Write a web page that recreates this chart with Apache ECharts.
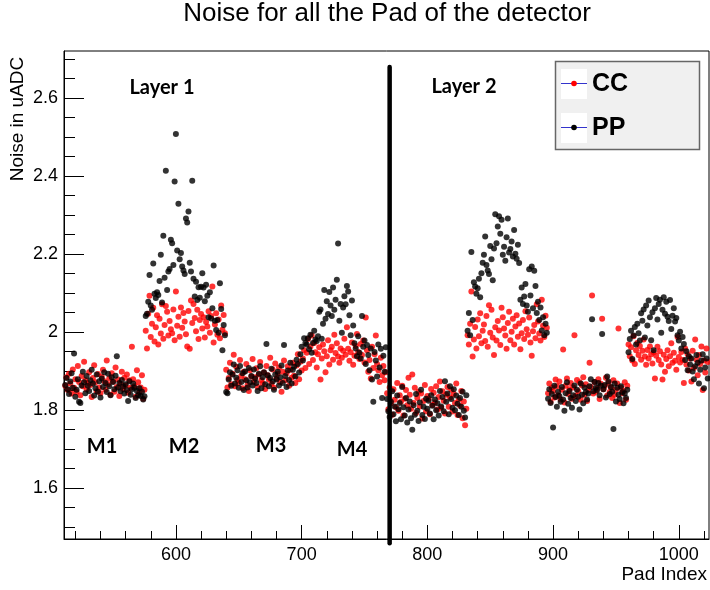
<!DOCTYPE html>
<html>
<head>
<meta charset="utf-8">
<script src="https://cdn.jsdelivr.net/npm/echarts@6/dist/echarts.min.js"></script>
<style>html,body{margin:0;padding:0;background:#fff}#c{width:710px;height:590px}</style>
</head>
<body>
<div id="c"></div>
<script>
// ---- data: noise per pad, one array of 64 pads per module ----
const moduleStarts = [512, 576, 640, 704, 768, 832, 896, 960];

const cc_L1M1 = [1.862,1.884,1.851,1.893,1.868,1.842,1.904,1.857,
1.879,1.846,1.913,1.872,1.838,1.887,1.861,1.924,
1.876,1.853,1.869,1.897,1.864,1.833,1.882,1.915,
1.871,1.848,1.892,1.858,1.843,1.886,1.903,1.874,
1.852,1.927,1.866,1.881,1.839,1.894,1.873,1.847,
1.909,1.859,1.878,1.836,1.867,1.898,1.854,1.883,
1.863,1.891,1.844,1.876,1.857,1.962,1.879,1.861,
1.834,1.902,1.871,1.845,1.858,1.889,1.829,1.852];
const pp_L1M1 = [1.864,1.882,1.853,1.841,1.873,1.894,1.857,1.945,
1.834,1.852,1.879,1.821,1.818,1.863,1.898,1.871,
1.843,1.887,1.862,1.849,1.876,1.903,1.868,1.837,
1.856,1.891,1.847,1.874,1.832,1.881,1.859,1.897,
1.869,1.846,1.893,1.861,1.838,1.884,1.872,1.853,
1.888,1.938,1.857,1.869,1.848,1.877,1.861,1.842,
1.866,1.851,1.823,1.874,1.839,1.853,1.868,1.857,
1.831,1.849,1.838,1.856,1.836,1.847,1.827,1.835];

const cc_L1M2 = [2.003,1.958,2.047,2.093,1.987,2.021,2.062,1.976,
2.012,2.043,1.968,2.034,1.996,2.071,1.983,2.018,
2.067,2.052,1.991,2.028,2.007,1.997,2.058,1.979,
2.104,2.016,2.039,1.988,2.063,2.011,2.049,2.027,
1.994,1.963,2.054,1.957,2.081,2.023,2.072,2.036,
2.002,2.057,1.982,2.031,2.046,2.009,2.038,1.986,
2.026,2.014,2.053,1.998,2.041,2.117,1.973,2.019,
2.048,1.993,2.032,1.984,2.068,2.006,2.044,1.997];
const pp_L1M2 = [2.041,2.047,2.078,2.146,2.068,2.057,2.176,2.098,
2.087,2.102,2.095,2.131,2.198,2.076,2.247,2.139,
2.414,2.108,2.155,2.162,2.237,2.228,2.172,2.386,
2.508,2.209,2.329,2.187,2.203,2.168,2.158,2.149,
2.291,2.281,2.309,2.178,2.155,2.388,2.137,2.091,
2.129,2.082,2.115,2.088,2.116,2.151,2.114,2.079,
2.121,2.093,2.038,2.102,2.035,2.061,2.171,2.029,
2.005,2.031,1.998,2.125,2.059,1.953,2.018,1.992];

const cc_L1M3 = [1.903,1.858,1.882,1.921,1.866,1.893,1.942,1.861,
1.911,1.877,1.869,1.928,1.887,1.856,1.898,1.879,
1.918,1.864,1.849,1.902,1.886,1.931,1.872,1.884,
1.907,1.859,1.891,1.923,1.876,1.868,1.896,1.854,
1.913,1.889,1.878,1.934,1.867,1.904,1.857,1.919,
1.881,1.893,1.909,1.871,1.847,1.898,1.927,1.876,
1.894,1.912,1.862,1.903,1.883,1.921,1.888,1.869,
1.914,1.943,1.879,1.924,1.901,1.932,1.953,1.908];
const pp_L1M3 = [1.846,1.843,1.878,1.897,1.862,1.891,1.917,1.868,
1.883,1.902,1.857,1.913,1.872,1.894,1.851,1.899,
1.876,1.858,1.908,1.871,1.887,1.863,1.904,1.881,
1.869,1.849,1.893,1.912,1.856,1.884,1.897,1.866,
1.969,1.889,1.861,1.882,1.906,1.873,1.852,1.891,
1.878,1.898,1.863,1.884,1.914,1.869,1.967,1.887,
1.859,1.901,1.877,1.921,1.868,1.903,1.911,1.886,
1.929,1.918,1.896,1.943,1.962,1.927,1.984,1.972];

const cc_L1M4 = [1.947,1.982,1.918,1.963,1.991,1.928,1.972,1.948,
1.909,1.943,1.961,1.878,1.932,1.968,1.951,1.897,
1.938,1.979,1.917,1.953,1.962,1.929,1.993,1.946,
1.971,1.937,1.921,1.958,1.934,1.952,1.983,1.942,
2.012,1.957,1.926,1.948,1.973,1.916,1.939,1.964,
1.995,1.949,1.931,1.969,1.941,1.978,1.922,2.037,
1.953,1.898,1.928,1.881,1.962,1.908,1.943,1.991,
1.918,1.902,1.872,1.934,1.889,1.913,1.876,1.897];
const pp_L1M4 = [1.968,1.984,1.956,1.993,1.947,1.972,2.003,1.981,
1.977,1.989,2.052,2.058,1.983,2.021,2.108,2.034,
2.079,2.046,2.103,2.068,2.041,2.114,2.057,2.083,
2.134,2.227,2.029,2.072,1.998,2.063,2.092,2.071,
2.118,2.104,2.043,1.992,2.081,2.017,1.971,1.958,
1.938,1.989,1.947,1.932,2.041,1.962,1.978,1.918,
1.967,1.941,1.902,1.958,1.878,1.821,1.949,1.927,
1.886,1.968,1.909,1.957,1.831,1.939,1.898,1.961];

const cc_L2M1 = [1.843,1.802,1.858,1.817,1.788,1.853,1.826,1.807,
1.869,1.798,1.838,1.821,1.862,1.786,1.829,1.851,
1.812,1.883,1.839,1.803,1.891,1.818,1.857,1.792,
1.831,1.847,1.809,1.842,1.778,1.823,1.864,1.797,
1.836,1.828,1.789,1.854,1.813,1.844,1.819,1.861,
1.801,1.833,1.873,1.806,1.848,1.824,1.791,1.839,
1.859,1.808,1.832,1.852,1.796,1.841,1.818,1.868,
1.787,1.827,1.811,1.849,1.779,1.822,1.761,1.803];
const pp_L2M1 = [1.828,1.797,1.782,1.821,1.848,1.789,1.809,1.771,
1.837,1.802,1.818,1.776,1.859,1.807,1.786,1.831,
1.768,1.801,1.822,1.779,1.749,1.812,1.788,1.841,
1.798,1.772,1.819,1.852,1.787,1.808,1.777,1.829,
1.803,1.824,1.791,1.838,1.811,1.776,1.827,1.799,
1.817,1.786,1.849,1.809,1.833,1.797,1.874,1.821,
1.842,1.789,1.861,1.828,1.806,1.853,1.799,1.837,
1.816,1.787,1.831,1.808,1.847,1.798,1.781,1.838];

const cc_L2M2 = [1.992,1.968,2.021,2.104,1.937,1.981,2.013,1.958,
2.032,1.989,2.048,1.971,2.003,2.019,1.977,2.041,
1.962,2.069,1.998,2.057,1.986,1.941,2.012,1.978,
2.028,2.004,1.967,2.062,2.038,2.009,1.991,1.957,
2.023,2.052,1.979,2.001,2.034,1.968,2.014,2.043,
1.988,2.022,1.956,1.997,2.031,1.982,2.053,2.007,
1.993,2.037,1.973,1.939,2.002,2.018,1.984,2.071,
2.027,1.996,1.978,2.083,2.016,1.987,2.042,2.011];
const pp_L2M2 = [2.003,2.049,1.992,2.205,2.031,2.128,2.117,2.098,
2.112,2.137,2.089,2.151,2.178,2.198,2.245,2.172,
2.158,2.149,2.221,2.187,2.133,2.214,2.302,2.228,
2.271,2.297,2.252,2.288,2.198,2.219,2.183,2.243,
2.291,2.204,2.213,2.232,2.194,2.262,2.201,2.188,
2.224,2.177,2.083,2.114,2.072,2.091,2.123,2.068,
2.052,2.161,2.094,2.168,2.061,2.157,2.118,2.049,
2.078,2.031,2.063,2.004,2.038,1.992,2.021,1.998];

const cc_L2M3 = [1.843,1.868,1.821,1.857,1.849,1.832,1.878,1.861,
1.838,1.873,1.827,1.852,1.955,1.819,1.862,1.881,
1.841,1.853,1.869,1.829,1.858,1.992,1.836,1.877,
1.848,1.871,1.826,1.863,1.884,1.839,1.866,1.823,
1.851,1.921,1.859,2.094,1.842,1.872,1.847,1.856,
1.879,1.828,1.867,2.034,1.853,1.861,1.883,1.837,
1.869,1.846,1.858,1.831,1.876,1.839,1.852,1.868,
2.009,1.818,1.857,1.843,1.849,1.871,1.826,1.862];
const pp_L2M3 = [1.829,1.853,1.818,1.841,1.755,1.862,1.833,1.808,
1.847,1.836,1.821,1.859,1.827,1.798,1.843,1.871,
1.816,1.849,1.831,1.806,1.838,1.863,1.823,1.852,
1.834,1.801,1.868,1.839,1.817,1.858,1.846,1.827,
1.842,1.861,1.879,2.033,1.848,1.872,1.857,1.851,
1.869,1.838,1.862,1.995,1.853,1.864,1.832,1.886,
1.873,1.841,1.859,1.847,1.751,1.868,1.822,1.857,
1.839,1.828,1.861,1.846,1.817,1.842,1.831,1.852];

const cc_L2M4 = [1.968,1.938,1.961,1.927,1.989,1.918,1.953,1.972,
1.941,1.964,1.929,1.952,1.981,1.937,1.916,1.954,
1.932,1.963,1.943,1.919,1.948,1.881,1.939,1.962,
1.928,1.951,1.917,1.878,1.942,1.898,1.931,1.953,
1.912,1.938,1.971,1.921,1.947,1.926,1.903,1.987,
1.936,1.922,1.949,1.928,1.869,1.958,1.917,1.943,
1.901,1.932,1.873,1.952,1.908,1.981,1.929,1.889,
1.941,1.918,1.963,1.851,1.927,1.896,1.958,1.923];
const pp_L2M4 = [1.948,1.982,2.003,1.931,1.991,2.013,1.968,2.021,
1.997,1.978,2.048,2.029,2.058,1.986,2.068,2.017,
2.081,2.038,1.979,2.051,1.953,2.061,2.087,2.032,
2.072,2.083,1.998,2.057,2.089,2.047,2.078,2.039,
2.028,2.082,2.008,2.042,2.061,2.027,2.036,1.992,
1.978,2.001,1.958,1.987,1.969,1.928,1.951,1.902,
1.938,1.917,1.932,1.899,1.879,1.912,1.941,1.921,
1.868,1.903,1.927,1.943,1.856,1.909,1.932,1.881];

const ccModules = [cc_L1M1, cc_L1M2, cc_L1M3, cc_L1M4, cc_L2M1, cc_L2M2, cc_L2M3, cc_L2M4];
const ppModules = [pp_L1M1, pp_L1M2, pp_L1M3, pp_L1M4, pp_L2M1, pp_L2M2, pp_L2M3, pp_L2M4];

const xTickLabels = [600, 700, 800, 900, 1000];
const yTickLabels = [1.6, 1.8, 2, 2.2, 2.4, 2.6];
const dividerPad = 770;
const dividerRange = [1.458, 2.68];

// ---- build ----
function toPoints(mods) {
  const out = [];
  mods.forEach((arr, m) => arr.forEach((v, i) => out.push([moduleStarts[m] + i, v])));
  return out;
}
const xMin = 511, xMax = 1024, yMin = 1.469, yMax = 2.721;
const xMinor = [], yMinor = [];
for (let v = 520; v <= 1020; v += 20) if (v % 100 !== 0) xMinor.push(v);
for (let k = 30; k <= 54; k++) { const v = +(k * 0.05).toFixed(2); if (v > yMin && v < yMax && Math.round(v * 100) % 20 !== 0) yMinor.push(v); }

const FONT = '"Liberation Sans", Arial, sans-serif';
const ANNOT = 'Lato, "Open Sans", sans-serif';

const chart = echarts.init(document.getElementById('c'), null, {renderer: 'canvas'});
chart.setOption({
  animation: false,
  backgroundColor: '#fff',
  grid: {left: 64, top: 51, width: 645, height: 488, show: true, borderColor: '#000', borderWidth: 1, backgroundColor: 'transparent'},
  xAxis: [{
    type: 'value', min: xMin, max: xMax, position: 'bottom',
    axisLine: {show: true, lineStyle: {color: '#000', width: 1}},
    axisTick: {show: true, inside: true, length: 14, customValues: xTickLabels, lineStyle: {color: '#000'}},
    axisLabel: {show: true, customValues: xTickLabels, formatter: v => String(v), fontFamily: FONT, fontSize: 18, color: '#000', margin: 7},
    splitLine: {show: false}
  }, {
    type: 'value', min: xMin, max: xMax, position: 'bottom', gridIndex: 0,
    axisLine: {show: false},
    axisTick: {show: true, inside: true, length: 8, customValues: xMinor, lineStyle: {color: '#000'}},
    axisLabel: {show: false},
    splitLine: {show: false}
  }],
  yAxis: [{
    type: 'value', min: yMin, max: yMax, position: 'left',
    axisLine: {show: true, lineStyle: {color: '#000', width: 1}},
    axisTick: {show: true, inside: true, length: 20, customValues: yTickLabels, lineStyle: {color: '#000'}},
    axisLabel: {show: true, customValues: yTickLabels, formatter: v => String(+v.toFixed(1)), fontFamily: FONT, fontSize: 18, color: '#000', margin: 6},
    splitLine: {show: false}
  }, {
    type: 'value', min: yMin, max: yMax, position: 'left', gridIndex: 0,
    axisLine: {show: false},
    axisTick: {show: true, inside: true, length: 11, customValues: yMinor, lineStyle: {color: '#000'}},
    axisLabel: {show: false},
    splitLine: {show: false}
  }],
  series: [{
    name: 'CC', type: 'scatter', data: toPoints(ccModules),
    symbol: 'circle', symbolSize: 6, itemStyle: {color: '#ff0000'}
  }, {
    name: 'PP', type: 'scatter', data: toPoints(ppModules),
    symbol: 'circle', symbolSize: 6, itemStyle: {color: '#000000'}
  }, {
    name: 'divider', type: 'line', clip: false, symbol: 'none',
    data: [[dividerPad, dividerRange[0]], [dividerPad, dividerRange[1]]],
    lineStyle: {color: '#000', width: 4.5, cap: 'round'}
  }],
  graphic: [
    {type: 'text', x: 387, y: 14, style: {text: 'Noise for all the Pad of the detector', font: '26px ' + FONT, fill: '#000', align: 'center', verticalAlign: 'middle'}},
    {type: 'text', x: 18, y: 119, rotation: Math.PI / 2,
     style: {text: 'Noise in uADC', font: '19px ' + FONT, fill: '#000', align: 'center', verticalAlign: 'middle'}},
    {type: 'text', x: 707, y: 575, style: {text: 'Pad Index', font: '19px ' + FONT, fill: '#000', align: 'right', verticalAlign: 'middle'}},
    {type: 'text', x: 162, y: 88, style: {text: 'Layer 1', font: 'bold 20px ' + ANNOT, fill: '#000', align: 'center', verticalAlign: 'middle'}},
    {type: 'text', x: 464, y: 87, style: {text: 'Layer 2', font: 'bold 20px ' + ANNOT, fill: '#000', align: 'center', verticalAlign: 'middle'}},
    {type: 'text', x: 102, y: 447, style: {text: 'M1', font: 'bold 20px ' + ANNOT, fill: '#000', align: 'center', verticalAlign: 'middle'}},
    {type: 'text', x: 184, y: 447, style: {text: 'M2', font: 'bold 20px ' + ANNOT, fill: '#000', align: 'center', verticalAlign: 'middle'}},
    {type: 'text', x: 271, y: 446, style: {text: 'M3', font: 'bold 20px ' + ANNOT, fill: '#000', align: 'center', verticalAlign: 'middle'}},
    {type: 'text', x: 352, y: 450, style: {text: 'M4', font: 'bold 20px ' + ANNOT, fill: '#000', align: 'center', verticalAlign: 'middle'}},
    // legend box
    {type: 'rect', shape: {x: 555.5, y: 61.5, width: 144, height: 88}, style: {fill: '#f0f0f0', stroke: '#666', lineWidth: 1.5}},
    {type: 'rect', shape: {x: 561, y: 69, width: 26, height: 30}, style: {fill: '#fff'}},
    {type: 'line', shape: {x1: 561, y1: 83.5, x2: 587, y2: 83.5}, style: {stroke: '#3333cc', lineWidth: 1}},
    {type: 'circle', shape: {cx: 574, cy: 83.5, r: 2.8}, style: {fill: '#ff0000'}},
    {type: 'text', x: 592, y: 84, style: {text: 'CC', font: 'bold 25px ' + FONT, fill: '#000', align: 'left', verticalAlign: 'middle'}},
    {type: 'rect', shape: {x: 561, y: 113, width: 26, height: 30}, style: {fill: '#fff'}},
    {type: 'line', shape: {x1: 561, y1: 127.5, x2: 587, y2: 127.5}, style: {stroke: '#3333cc', lineWidth: 1}},
    {type: 'circle', shape: {cx: 574, cy: 127.5, r: 2.8}, style: {fill: '#000'}},
    {type: 'text', x: 592, y: 128, style: {text: 'PP', font: 'bold 25px ' + FONT, fill: '#000', align: 'left', verticalAlign: 'middle'}}
  ]
});
</script>
</body>
</html>
